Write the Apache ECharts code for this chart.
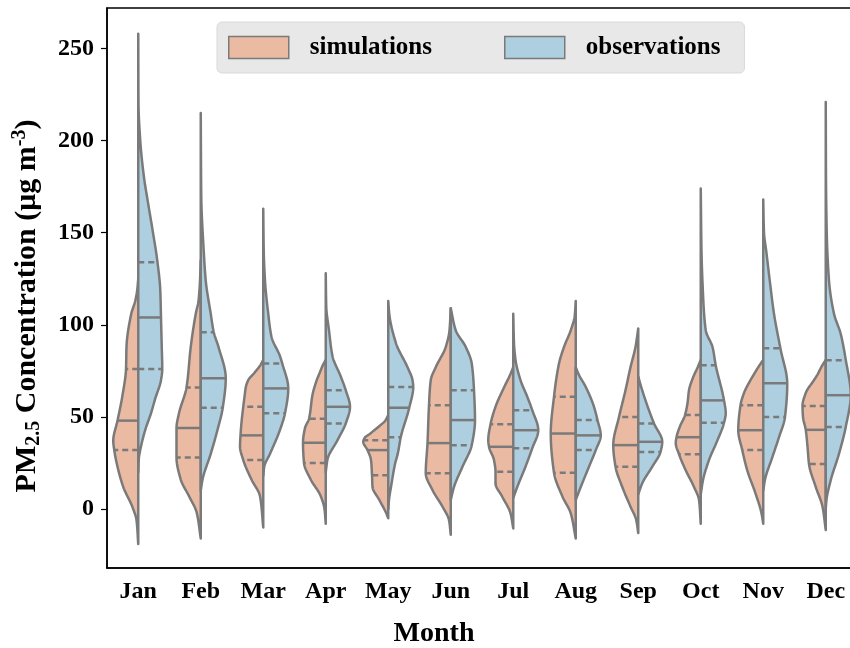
<!DOCTYPE html>
<html>
<head>
<meta charset="utf-8">
<script src="https://cdn.jsdelivr.net/npm/echarts@6/dist/echarts.min.js"></script>
<style>
  html, body { margin: 0; padding: 0; background: #fff; }
  #main { width: 850px; height: 648px; }
</style>
</head>
<body>
<div id="main"></div>
<script>
  // months on the x axis
  var months = ['Jan', 'Feb', 'Mar', 'Apr', 'May', 'Jun', 'Jul', 'Aug', 'Sep', 'Oct', 'Nov', 'Dec'];
  var yTicks = [0, 50, 100, 150, 200, 250];

  // violin outlines: [value, relative half width (1 = widest)]
  var simProfiles = [
    [[125, 0], [119, 0.04], [113, 0.12], [106, 0.28], [88, 0.47], [76, 0.49], [61, 0.64], [48, 0.83], [37, 1.0], [32, 0.96], [23, 0.83], [12, 0.6], [1, 0.23], [-6, 0.07], [-19, 0]],
    [[135, 0], [124, 0.03], [113, 0.09], [106, 0.2], [88, 0.4], [66, 0.57], [52, 0.87], [44, 0.97], [28, 0.97], [16, 0.8], [7, 0.47], [-2, 0.16], [-16, 0]],
    [[81, 0], [78, 0.12], [74, 0.35], [70, 0.6], [66, 0.7], [62, 0.74], [55.5, 0.8], [47, 0.87], [40, 0.91], [34, 0.93], [26.6, 0.8], [16, 0.47], [7, 0.13], [-10, 0]],
    [[81, 0], [78, 0.12], [74, 0.24], [70, 0.36], [62, 0.53], [49, 0.67], [44, 0.83], [36, 0.91], [25, 0.87], [16, 0.6], [7, 0.2], [0, 0.05], [-8, 0]],
    [[51, 0], [48, 0.12], [45, 0.36], [41, 0.72], [38.5, 0.95], [36.5, 1.0], [32, 0.83], [26.6, 0.69], [18.4, 0.65], [12, 0.63], [5, 0.36], [-2, 0.09], [-5, 0]],
    [[109, 0], [97, 0.05], [88, 0.2], [77, 0.6], [70, 0.8], [56.4, 0.87], [35.8, 0.93], [19.5, 1.0], [10.3, 0.73], [1.3, 0.33], [-6, 0.07], [-14, 0]],
    [[77, 0], [73, 0.12], [66, 0.37], [55.5, 0.71], [46, 0.91], [37.4, 1.0], [33.8, 0.97], [26.6, 0.77], [20.2, 0.71], [14, 0.71], [6.7, 0.44], [-2.3, 0.11], [-10.5, 0]],
    [[113, 0], [105, 0.04], [97, 0.2], [88, 0.47], [79, 0.67], [61, 0.87], [41, 1.0], [19.7, 0.87], [6.7, 0.53], [-2.3, 0.2], [-16, 0]],
    [[98, 0], [88, 0.11], [77, 0.31], [64.5, 0.51], [50, 0.77], [34.7, 1.0], [23, 0.91], [12, 0.64], [1.3, 0.31], [-6, 0.08], [-13, 0]],
    [[81, 0], [77, 0.12], [71.7, 0.3], [64.5, 0.47], [57.5, 0.53], [51, 0.63], [44.6, 0.84], [39, 0.97], [35.8, 1.0], [29.8, 0.87], [21, 0.6], [12, 0.27], [5, 0.07], [-8, 0]],
    [[81, 0], [77, 0.2], [73, 0.38], [70, 0.51], [63, 0.77], [56.4, 0.91], [42.8, 1.0], [32, 0.84], [21, 0.64], [8.5, 0.31], [-2.3, 0.07], [-8, 0]],
    [[81, 0], [77, 0.18], [73, 0.33], [70, 0.47], [63, 0.8], [56, 0.93], [50, 0.91], [43, 0.8], [34, 0.73], [24.4, 0.67], [12, 0.4], [1.3, 0.13], [-11.4, 0]]
  ];
  var obsProfiles = [
    [[258, 0], [220, 0.01], [200, 0.08], [180, 0.23], [168, 0.37], [150, 0.59], [135, 0.76], [119, 0.88], [104, 0.91], [88, 0.94], [76, 0.96], [70, 0.91], [60, 0.68], [52, 0.51], [43, 0.28], [34, 0.11], [27, 0.02], [20, 0]],
    [[215, 0], [170, 0.02], [140, 0.12], [124, 0.2], [106, 0.4], [96, 0.52], [88, 0.71], [71, 1.0], [55, 0.88], [43, 0.67], [30, 0.4], [16, 0.07], [10, 0]],
    [[163, 0], [140, 0.02], [124, 0.07], [106, 0.2], [93.5, 0.33], [83, 0.67], [79, 0.76], [65.5, 1.0], [52, 0.87], [43, 0.67], [30, 0.27], [23, 0.04], [18, 0]],
    [[128, 0], [110, 0.02], [97, 0.13], [83, 0.27], [72, 0.6], [64.5, 0.8], [55.5, 0.97], [46.5, 0.8], [37.4, 0.47], [27, 0.07], [20, 0]],
    [[113, 0], [106, 0.04], [90, 0.31], [77, 0.77], [70, 0.97], [66.3, 1.0], [55, 0.84], [39, 0.5], [30, 0.38], [25, 0.28], [12, 0.11], [5, 0.03], [0, 0]],
    [[109, 0], [97, 0.2], [88, 0.6], [79, 0.84], [64.5, 0.93], [48.3, 0.97], [34.7, 0.84], [23, 0.47], [12, 0.13], [5, 0]],
    [[106, 0], [90, 0.03], [81, 0.09], [70, 0.29], [61, 0.56], [53.7, 0.76], [42.8, 1.0], [33, 0.76], [23, 0.49], [12, 0.16], [6, 0]],
    [[77, 0], [73, 0.12], [66.3, 0.4], [55.5, 0.73], [48.3, 0.87], [40, 1.0], [32, 0.8], [23, 0.53], [12, 0.2], [5, 0]],
    [[72, 0], [68, 0.08], [59, 0.29], [46.5, 0.63], [36.5, 0.96], [31, 0.89], [23, 0.56], [14, 0.16], [8, 0]],
    [[174, 0], [140, 0.03], [120, 0.08], [97, 0.2], [88, 0.47], [78, 0.6], [59, 0.93], [52, 1.0], [46.8, 0.93], [37.4, 0.67], [26.6, 0.33], [15.7, 0.09], [8, 0]],
    [[168, 0], [150, 0.03], [140, 0.12], [124, 0.26], [106, 0.43], [87, 0.69], [68, 0.96], [50, 0.87], [39, 0.63], [28, 0.36], [16, 0.07], [10, 0]],
    [[221, 0], [180, 0.01], [150, 0.04], [124, 0.13], [106, 0.33], [95, 0.6], [81, 0.8], [62, 1.0], [44.6, 0.8], [30, 0.53], [15.7, 0.2], [5, 0.03], [0, 0]]
  ];
  // [lower quartile, median, upper quartile]
  var simQuartiles = [[32, 48, 76], [28, 44, 66], [26.6, 40, 55.5], [25, 36, 49], [18.4, 32, 37.4], [19.5, 35.8, 56.4],
    [20.2, 33.8, 46], [19.7, 41, 61], [23, 34.7, 50], [29.8, 39, 51], [32, 42.8, 56.4], [24.4, 43, 56]];
  var obsQuartiles = [[76, 104, 134], [55, 71, 96], [52, 65.5, 79], [46.5, 55.5, 64.5], [39, 55, 66.3], [34.7, 48.3, 64.5],
    [33, 42.8, 53.7], [32, 40, 48.3], [31, 36.5, 46.5], [46.8, 59, 78], [50, 68.3, 87.3], [44.6, 61.8, 80.8]];

  var FONT = 'Liberation Serif, Times New Roman, serif';
  var EDGE = '#7a7a7a';
  var SIM_COLOR = '#ebbaa2';
  var OBS_COLOR = '#aecfe0';

  // monotone cubic through the outline points, so the violin edge is curved
  function makeInterp(prof) {
    var pts = prof.slice().sort(function (a, b) { return a[0] - b[0]; });
    var n = pts.length, xs = [], ys = [], d = [], m = [];
    for (var i = 0; i < n; i++) { xs.push(pts[i][0]); ys.push(pts[i][1]); }
    for (i = 0; i < n - 1; i++) d.push((ys[i + 1] - ys[i]) / (xs[i + 1] - xs[i]));
    m[0] = d[0]; m[n - 1] = d[n - 2];
    for (i = 1; i < n - 1; i++) {
      if (d[i - 1] * d[i] <= 0) { m[i] = 0; continue; }
      var h0 = xs[i] - xs[i - 1], h1 = xs[i + 1] - xs[i];
      m[i] = 3 * (h0 + h1) / ((2 * h1 + h0) / d[i - 1] + (h1 + 2 * h0) / d[i]);
    }
    return {
      lo: xs[0], hi: xs[n - 1],
      at: function (v) {
        if (v <= xs[0]) return ys[0];
        if (v >= xs[n - 1]) return ys[n - 1];
        var k = 0;
        while (k < n - 2 && v > xs[k + 1]) k++;
        var h = xs[k + 1] - xs[k], t = (v - xs[k]) / h;
        var t2 = t * t, t3 = t2 * t;
        var w = (2 * t3 - 3 * t2 + 1) * ys[k] + (t3 - 2 * t2 + t) * h * m[k] +
          (-2 * t3 + 3 * t2) * ys[k + 1] + (t3 - t2) * h * m[k + 1];
        return Math.max(0, w);
      }
    };
  }

  function makeRender(profiles, quarts, side, fill) {
    return function (params, api) {
      var i = api.value(0);
      var f = makeInterp(profiles[i]);
      var cx = api.coord([i, 0])[0];
      var hw = api.size([1, 0])[0] * 0.4;
      var pts = [];
      var steps = 200;
      for (var s = 0; s <= steps; s++) {
        var v = f.lo + (f.hi - f.lo) * s / steps;
        pts.push([cx + side * f.at(v) * hw, api.coord([i, v])[1]]);
      }
      var children = [{
        type: 'polygon',
        shape: { points: pts },
        style: { fill: fill, stroke: EDGE, lineWidth: 2.5, lineJoin: 'round' }
      }];
      var q = quarts[i];
      for (var k = 0; k < 3; k++) {
        var y = api.coord([i, q[k]])[1];
        children.push({
          type: 'line',
          shape: { x1: cx, y1: y, x2: cx + side * f.at(q[k]) * hw, y2: y },
          style: { stroke: EDGE, lineWidth: 2.5, lineDash: k === 1 ? null : [6, 4] }
        });
      }
      return { type: 'group', children: children };
    };
  }

  var idx = months.map(function (m, i) { return [i, 0]; });

  var chart = echarts.init(document.getElementById('main'));
  var option = {
    animation: false,
    textStyle: { fontFamily: FONT },
    grid: {
      left: 107, top: 8, width: 750, height: 560,
      outerBoundsMode: 'none',
      show: true, borderColor: '#000', borderWidth: 1.5, backgroundColor: 'transparent'
    },
    legend: {
      left: 217, top: 22,
      itemWidth: 60, itemHeight: 22, itemGap: 72,
      padding: [13, 24, 13, 11],
      backgroundColor: '#e8e8e8', borderColor: '#d9d9d9', borderWidth: 1, borderRadius: 5,
      icon: 'rect', selectedMode: false,
      textStyle: { fontFamily: FONT, fontWeight: 'bold', fontSize: 25, color: '#000', padding: [0, 0, 0, 16] },
      data: [
        { name: 'simulations', itemStyle: { color: SIM_COLOR, borderColor: EDGE, borderWidth: 1.5 } },
        { name: 'observations', itemStyle: { color: OBS_COLOR, borderColor: EDGE, borderWidth: 1.5 } }
      ]
    },
    xAxis: {
      type: 'category',
      data: months,
      boundaryGap: true,
      name: 'Month',
      nameLocation: 'middle',
      nameGap: 52,
      nameTextStyle: { fontFamily: FONT, fontWeight: 'bold', fontSize: 28, color: '#000', padding: [0, 96, 0, 0] },
      axisLine: { onZero: false, lineStyle: { color: '#000', width: 1.5 } },
      axisTick: { alignWithLabel: true, length: 6, lineStyle: { color: '#000', width: 1.2 } },
      axisLabel: { fontFamily: FONT, fontWeight: 'bold', fontSize: 24, color: '#000', margin: 12 },
      splitLine: { show: false }
    },
    yAxis: {
      type: 'value',
      min: -32, max: 272,
      name: '{t|PM}{sub|2.5}{t| Concentration (μg m}{sup|-3}{t|)}',
      nameLocation: 'middle',
      nameRotate: 90,
      nameGap: 63,
      nameTextStyle: {
        padding: [0, 36, 0, 0],
        rich: {
          t: { fontFamily: FONT, fontWeight: 'bold', fontSize: 30, color: '#000', lineHeight: 34 },
          sub: { fontFamily: FONT, fontWeight: 'bold', fontSize: 20, color: '#000', lineHeight: 14, verticalAlign: 'bottom' },
          sup: { fontFamily: FONT, fontWeight: 'bold', fontSize: 20, color: '#000', lineHeight: 14, verticalAlign: 'top' }
        }
      },
      axisLine: { show: true, onZero: false, lineStyle: { color: '#000', width: 1.5 } },
      axisTick: { show: true, length: 6, customValues: yTicks, lineStyle: { color: '#000', width: 1.2 } },
      axisLabel: { fontFamily: FONT, fontWeight: 'bold', fontSize: 24, color: '#000', margin: 13, customValues: yTicks },
      splitLine: { show: false }
    },
    series: [
      {
        name: 'simulations', type: 'custom',
        itemStyle: { color: SIM_COLOR, borderColor: EDGE },
        renderItem: makeRender(simProfiles, simQuartiles, -1, SIM_COLOR),
        data: idx
      },
      {
        name: 'observations', type: 'custom',
        itemStyle: { color: OBS_COLOR, borderColor: EDGE },
        renderItem: makeRender(obsProfiles, obsQuartiles, 1, OBS_COLOR),
        data: idx
      }
    ]
  };
  chart.setOption(option);
</script>
</body>
</html>
